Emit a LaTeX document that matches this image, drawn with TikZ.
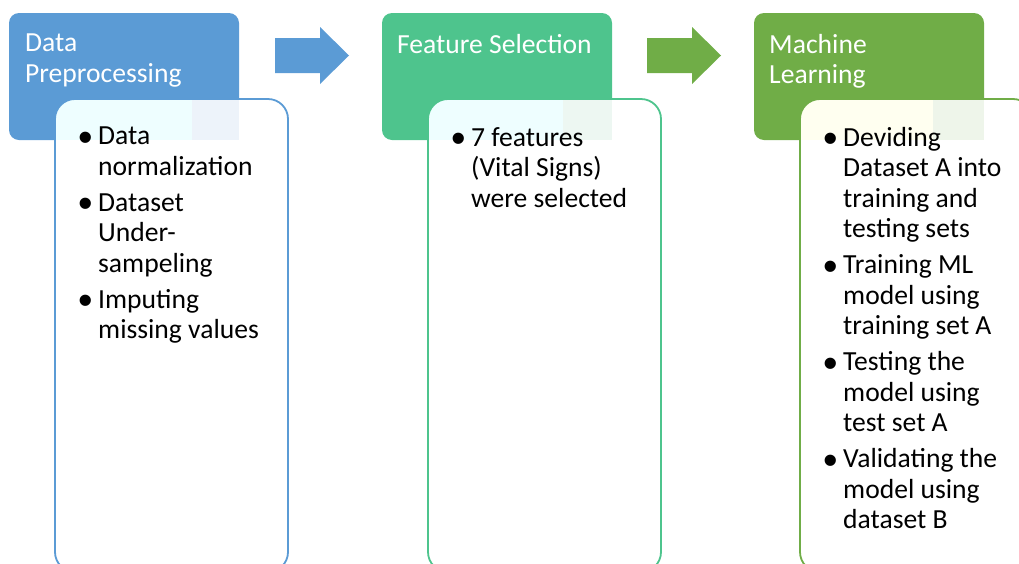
\documentclass[tikz,border=0pt]{standalone}
\usepackage{fontspec}
\setmainfont{Carlito}
\newfontfamily\bulletfont{Liberation Sans}
\usepackage{tikz}
\usetikzlibrary{positioning}
\usepackage{xcolor}
\definecolor{StageBlue}{RGB}{91,155,213}
\definecolor{StageTeal}{RGB}{78,196,141}
\definecolor{StageGreen}{RGB}{112,173,71}
\definecolor{TintCyan}{RGB}{238,254,255}
\definecolor{TintIvory}{RGB}{255,255,240}
\definecolor{TintBlue}{RGB}{237,243,250}
\definecolor{TintTeal}{RGB}{237,247,242}
\definecolor{TintGreen}{RGB}{238,245,234}

% hanging bullet in front of a list line
\newcommand{\bul}{\llap{\raisebox{-6.5pt}{\scalebox{1.5}{\bulletfont\textbullet}}\hspace{5pt}}}
% block arrow between two stages, #1 = left end, #2 = colour
\newcommand{\stagearrow}[2]{%
  \fill[#2] (#1,38) -- ++(45,0) -- ++(0,-11) -- ++(29,28.5) -- ++(-29,28.5) -- ++(0,-11) -- ++(-45,0) -- cycle;}

\begin{document}
\begin{tikzpicture}[x=1pt, y=-1pt,
  headbox/.style={rectangle, rounded corners=10pt, fill=#1, minimum width=230pt, minimum height=127pt, anchor=north west, inner sep=0pt, outer sep=0pt},
  listbox/.style={rectangle, rounded corners=20pt, fill=white, minimum width=233pt, minimum height=473pt, anchor=north west, inner sep=0pt, outer sep=0pt},
  frame/.style={draw=#1, line width=1.8pt, rounded corners=20pt},
  headtext/.style={text=white, anchor=north west, align=left, inner sep=0pt, font=\fontsize{27.6}{30.5}\selectfont},
  listtext/.style={anchor=north west, align=left, inner sep=0pt, font=\fontsize{27.6}{30.5}\selectfont}]
\useasboundingbox (0,0) rectangle (1019,563);

% stage headers
\node[headbox=StageBlue] (h1) at (9,13) {};
\node[headbox=StageTeal] (h2) at (382,13) {};
\node[headbox=StageGreen] (h3) at (754,13) {};
\node[headtext] (h1t) at (25,34) {Data\\Preprocessing};
\node[headtext] (h2t) at (397,34) {Feature Selection};
\node[headtext] (h3t) at (769,34) {Machine\\Learning};

\stagearrow{275}{StageBlue}
\stagearrow{647}{StageGreen}

% list boxes
\node[listbox] (b1) at (55,99) {};
\node[listbox] (b2) at (428,99) {};
\node[listbox] (b3) at (800,99) {};
\begin{scope}
\clip[rounded corners=20pt] (b1.north west) rectangle (b1.south east);
\fill[TintCyan] (b1.north west) rectangle (192,140);
\fill[TintBlue] (192,99) rectangle (h1.south east);
\end{scope}
\begin{scope}
\clip[rounded corners=20pt] (b2.north west) rectangle (b2.south east);
\fill[TintCyan] (b2.north west) rectangle (563,140);
\fill[TintTeal] (563,99) rectangle (h2.south east);
\end{scope}
\begin{scope}
\clip[rounded corners=20pt] (b3.north west) rectangle (b3.south east);
\fill[TintIvory] (b3.north west) rectangle (933,140);
\fill[TintGreen] (933,99) rectangle (h3.south east);
\end{scope}
\draw[frame=StageBlue] (b1.north west) rectangle (b1.south east);
\draw[frame=StageTeal] (b2.north west) rectangle (b2.south east);
\draw[frame=StageGreen] (b3.north west) rectangle (b3.south east);

\node[listtext] (b1t) at (98,127) {\bul Data\\normalization\\[5.5pt]
  \bul Dataset\\Under-\\sampeling\\[5.5pt]
  \bul Imputing\\missing values};
\node[listtext] (b2t) at (471,127) {\bul 7 features\\(Vital Signs)\\were selected};
\node[listtext] (b3t) at (843,127) {\bul Deviding\\Dataset A into\\training and\\testing sets\\[5.5pt]
  \bul Training ML\\model using\\training set A\\[5.5pt]
  \bul Testing the\\model using\\test set A\\[5.5pt]
  \bul Validating the\\model using\\dataset B};
\end{tikzpicture}
\end{document}
